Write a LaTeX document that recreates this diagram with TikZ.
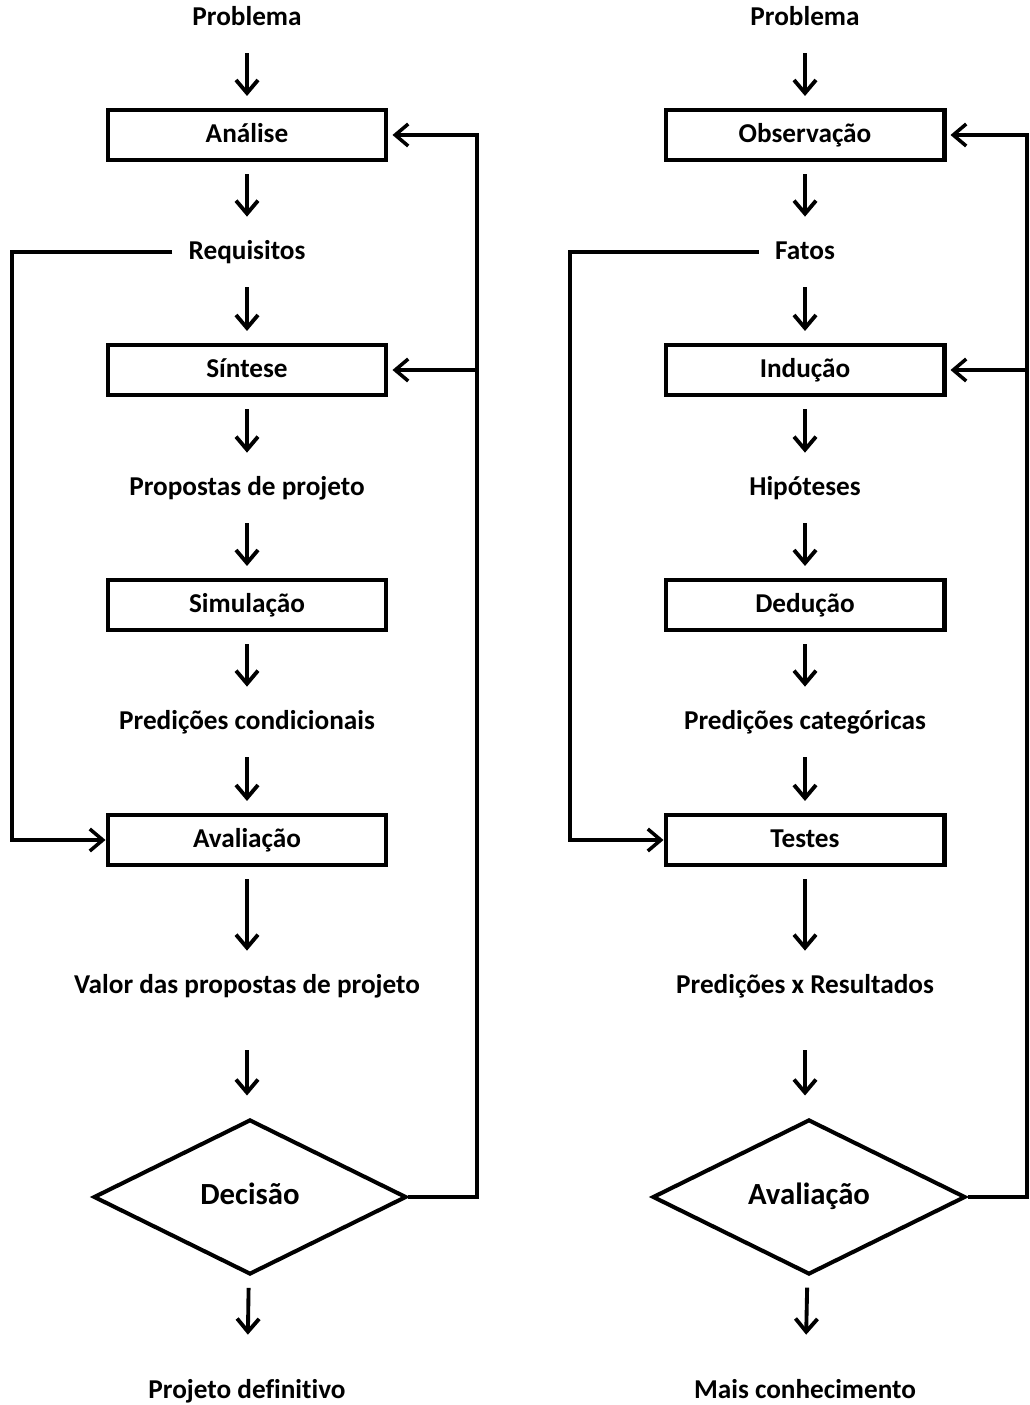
\documentclass[tikz,border=0pt]{standalone}
\usepackage{fontspec}
\setmainfont[Ligatures=NoCommon]{Carlito}
\usetikzlibrary{arrows.meta,shapes.geometric}

\tikzset{
  etapa/.style={draw, line width=2.3pt, minimum width=5.58cm, minimum height=1cm,
    inner sep=0pt, text height=2.2ex, text depth=0.35ex,
    font=\bfseries\fontsize{15.5}{18}\selectfont},
  saida/.style={minimum height=0.92cm, inner sep=0pt, text height=2.2ex, text depth=0.35ex,
    font=\bfseries\fontsize{15.5}{18}\selectfont},
  decisao/.style={draw, diamond, line width=2.3pt, minimum width=6.26cm,
    minimum height=3.1cm, inner sep=0pt, text height=2.2ex, text depth=0.35ex,
    font=\bfseries\fontsize{17.5}{20}\selectfont},
  ponta/.style={-{Straight Barb[length=0.26cm,width=0.44cm]}},
  seta/.style={ponta, line width=2.2pt, shorten <=0.24cm, shorten >=0.24cm},
  laco/.style={line width=2pt, line join=miter}
}

\begin{document}
\begin{tikzpicture}[x=0.02cm, y=-0.02cm]
  \useasboundingbox (0,0) rectangle (1030,1405);

  % projeto
  \node[saida] (prob1) at (247,18) {Problema};
  \node[etapa] (ana) at (247,135) {Análise};
  \node[saida] (req) at (247,252) {Requisitos};
  \node[etapa] (sin) at (247,370) {Síntese};
  \node[saida] (prop) at (247,488) {Propostas de projeto};
  \node[etapa] (sim) at (247,605) {Simulação};
  \node[saida] (predc) at (247,722) {Predições condicionais};
  \node[etapa] (aval) at (247,840) {Avaliação};
  \node[saida] (valor) at (247,986) {Valor das propostas de projeto};
  \node[decisao] (dec) at (250,1197) {Decisão};
  \node[saida] (projdef) at (247,1391) {Projeto definitivo};

  % ciencia
  \node[saida] (prob2) at (805,18) {Problema};
  \node[etapa] (obs) at (805,135) {Observação};
  \node[saida] (fatos) at (805,252) {Fatos};
  \node[etapa] (ind) at (805,370) {Indução};
  \node[saida] (hip) at (805,488) {Hipóteses};
  \node[etapa] (ded) at (805,605) {Dedução};
  \node[saida] (predcat) at (805,722) {Predições categóricas};
  \node[etapa] (test) at (805,840) {Testes};
  \node[saida] (predres) at (805,986) {Predições x Resultados};
  \node[decisao] (avd) at (809,1197) {Avaliação};
  \node[saida] (mais) at (805,1391) {Mais conhecimento};

  \begin{scope}[seta]
    \draw (prob1) to (ana);
    \draw (ana) to (req);
    \draw (req) to (sin);
    \draw (sin) to (prop);
    \draw (prop) to (sim);
    \draw (sim) to (predc);
    \draw (predc) to (aval);
    \draw (aval) to (valor);
    \draw[shorten <=0.82cm, shorten >=0.44cm] (valor) to (valor |- dec.north);
    \draw[shorten >=0.66cm] (dec) to (projdef);
    \draw (prob2) to (obs);
    \draw (obs) to (fatos);
    \draw (fatos) to (ind);
    \draw (ind) to (hip);
    \draw (hip) to (ded);
    \draw (ded) to (predcat);
    \draw (predcat) to (test);
    \draw (test) to (predres);
    \draw[shorten <=0.82cm, shorten >=0.44cm] (predres) to (predres |- avd.north);
    \draw[shorten >=0.66cm] (avd) to (mais);
  \end{scope}

  % lacos
  \coordinate (l1) at (12,252);
  \coordinate (l2) at (570,252);
  \coordinate (r1) at (477,1197);
  \coordinate (r2) at (1027,1197);
  \draw[laco, ponta, shorten <=0.32cm] (req.west) -- (l1) |- (aval.west);
  \draw[laco, ponta, shorten <=0.32cm] (fatos.west) -- (l2) |- (test.west);
  \draw[laco, ponta, shorten >=0.08cm] (dec.east) -- (r1) |- (ana.east);
  \draw[laco, ponta, shorten >=0.08cm] (r1 |- sin.east) -- (sin.east);
  \draw[laco, ponta, shorten >=0.08cm] (avd.east) -- (r2) |- (obs.east);
  \draw[laco, ponta, shorten >=0.08cm] (r2 |- ind.east) -- (ind.east);
\end{tikzpicture}
\end{document}
